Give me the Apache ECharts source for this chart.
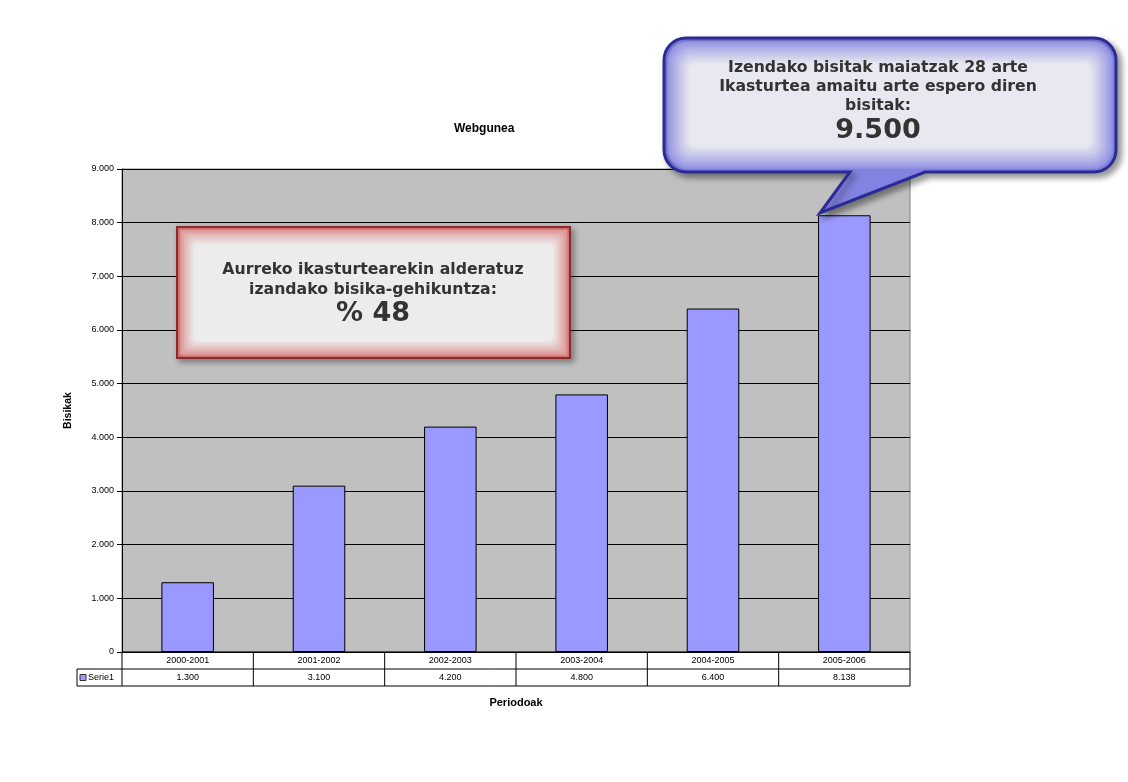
<!DOCTYPE html>
<html><head><meta charset="utf-8">
<script src="https://cdn.jsdelivr.net/npm/echarts@6/dist/echarts.min.js"></script>
<style>html,body{margin:0;padding:0;background:#fff}#c{width:1128px;height:782px}</style>
</head><body><div id="c"></div>
<script>
const categories = ['2000-2001', '2001-2002', '2002-2003', '2003-2004', '2004-2005', '2005-2006'];
const visits = [1300, 3100, 4200, 4800, 6400, 8138];
const seriesName = 'Serie1';
const titleText = 'Webgunea';
const xAxisName = 'Periodoak';
const yAxisName = 'Bisikak';
const yMax = 9000;
const yStep = 1000;
const noteRedLines = ['Aurreko ikasturtearekin alderatuz', 'izandako bisika-gehikuntza:'];
const noteRedValue = '% 48';
const noteBlueLines = ['Izendako bisitak maiatzak 28 arte', 'Ikasturtea amaitu arte espero diren', 'bisitak:'];
const noteBlueValue = '9.500';

function fmt(v) { return String(v).replace(/\B(?=(\d{3})+(?!\d))/g, '.'); }

const chart = echarts.init(document.getElementById('c'));
const FONT = 'Liberation Sans, Arial, sans-serif';
const NOTE_FONT = 'DejaVu Sans, Verdana, sans-serif';

chart.setOption({
  animation: false,
  backgroundColor: '#ffffff',
  title: {
    text: titleText, left: 449, top: 118,
    textStyle: { fontSize: 12, fontWeight: 'bold', fontFamily: FONT, color: '#000' }
  },
  grid: {
    left: 122, right: 218, top: 169, bottom: 130,
    show: true, backgroundColor: '#c0c0c0', borderColor: '#808080', borderWidth: 1
  },
  xAxis: {
    type: 'category', data: categories,
    name: xAxisName, nameLocation: 'middle', nameGap: 45,
    nameTextStyle: { fontSize: 11, fontWeight: 'bold', fontFamily: FONT, color: '#000' },
    axisLine: { show: true, lineStyle: { color: '#000', width: 1 } },
    axisTick: { show: false }, axisLabel: { show: false }, splitLine: { show: false }
  },
  yAxis: {
    type: 'value', min: 0, max: yMax, interval: yStep,
    name: yAxisName, nameLocation: 'middle', nameGap: 48, nameRotate: 90,
    nameTextStyle: { fontSize: 10.5, fontWeight: 'bold', fontFamily: FONT, color: '#000' },
    axisLine: { show: true, lineStyle: { color: '#000', width: 1 } },
    axisTick: { show: true, length: 5, lineStyle: { color: '#000' } },
    axisLabel: { formatter: fmt, fontSize: 9, fontFamily: FONT, color: '#000', margin: 8 },
    splitLine: { show: true, lineStyle: { color: '#000', width: 1 } }
  },
  series: [{
    name: seriesName, type: 'bar', data: visits, barWidth: '40%',
    itemStyle: { color: '#9999ff', borderColor: '#000', borderWidth: 1 }
  }]
});

// ---- data table under the plot, positioned from the axis scale ----
const c0 = chart.convertToPixel({ xAxisIndex: 0 }, categories[0]);
const c1 = chart.convertToPixel({ xAxisIndex: 0 }, categories[1]);
const band = c1 - c0;
const left = c0 - band / 2;
const right = left + band * categories.length;
const yZero = chart.convertToPixel({ yAxisIndex: 0 }, 0);
const rowH = 17;
const r1 = yZero, r2 = yZero + rowH, r3 = yZero + 2 * rowH;
const legLeft = left - 45;
const g = [];
const line = (x1, y1, x2, y2) => g.push({ type: 'line', z: 100, shape: { x1, y1, x2, y2 }, style: { stroke: '#000', lineWidth: 1 } });
line(left, r1, right, r1);
line(legLeft, r2, right, r2);
line(legLeft, r3, right, r3);
line(legLeft, r2, legLeft, r3);
for (let i = 0; i <= categories.length; i++) line(left + i * band, r1, left + i * band, r3);
categories.forEach((cat, i) => {
  const cx = left + (i + 0.5) * band;
  g.push({ type: 'text', z: 100, x: cx, y: (r1 + r2) / 2 + 0.5, style: { text: cat, fontSize: 9, fontFamily: FONT, fill: '#000', align: 'center', verticalAlign: 'middle' } });
  g.push({ type: 'text', z: 100, x: cx, y: (r2 + r3) / 2 + 0.5, style: { text: fmt(visits[i]), fontSize: 9, fontFamily: FONT, fill: '#000', align: 'center', verticalAlign: 'middle' } });
});
g.push({ type: 'rect', z: 100, shape: { x: legLeft + 3, y: (r2 + r3) / 2 - 3, width: 6, height: 6 }, style: { fill: '#9999ff', stroke: '#333', lineWidth: 1 } });
g.push({ type: 'text', z: 100, x: legLeft + 11, y: (r2 + r3) / 2 + 0.5, style: { text: seriesName, fontSize: 9, fontFamily: FONT, fill: '#000', align: 'left', verticalAlign: 'middle' } });

// colour blend helper for soft inner glow
function mix(a, b, t) {
  const pa = [1, 3, 5].map(k => parseInt(a.substr(k, 2), 16));
  const pb = [1, 3, 5].map(k => parseInt(b.substr(k, 2), 16));
  return 'rgb(' + pa.map((v, i) => Math.round(v + (pb[i] - v) * t)).join(',') + ')';
}

// ---- red note box ----
const RB = { x: 177, y: 227, w: 393, h: 131 };
g.push({ type: 'rect', z: 110, shape: { x: RB.x, y: RB.y, width: RB.w, height: RB.h },
  style: { fill: '#d87878', stroke: '#8e2a2a', lineWidth: 2, shadowBlur: 6, shadowOffsetX: 3, shadowOffsetY: 3, shadowColor: 'rgba(0,0,0,0.35)' } });
const redSteps = 14;
for (let k = 1; k <= redSteps; k++) {
  const t = k / redSteps;
  const ins = 1.5 + k * 1.1;
  g.push({ type: 'rect', z: 110 + k * 0.01, shape: { x: RB.x + ins, y: RB.y + ins, width: RB.w - 2 * ins, height: RB.h - 2 * ins, r: Math.min(k, 6) },
    style: { fill: mix('#dc8484', '#ececec', Math.pow(t, 0.8)) } });
}
noteRedLines.forEach((t, i) => g.push({ type: 'text', z: 112, x: 373, y: 270 + i * 20,
  style: { text: t, fontSize: 15.7, fontWeight: 'bold', fontFamily: NOTE_FONT, fill: '#333', align: 'center', verticalAlign: 'middle' } }));
g.push({ type: 'text', z: 112, x: 373, y: 314,
  style: { text: noteRedValue, fontSize: 27, fontWeight: 'bold', fontFamily: NOTE_FONT, fill: '#333', align: 'center', verticalAlign: 'middle' } });

// ---- blue speech bubble ----
function roundedPoly(x0, y0, x1, y1, r, tail) {
  const pts = [];
  const arc = (cx, cy, a0, a1) => { for (let k = 0; k <= 8; k++) { const a = a0 + (a1 - a0) * k / 8; pts.push([cx + r * Math.cos(a), cy + r * Math.sin(a)]); } };
  arc(x0 + r, y0 + r, Math.PI, 1.5 * Math.PI);
  arc(x1 - r, y0 + r, 1.5 * Math.PI, 2 * Math.PI);
  arc(x1 - r, y1 - r, 0, 0.5 * Math.PI);
  tail.forEach(p => pts.push(p));
  arc(x0 + r, y1 - r, 0.5 * Math.PI, Math.PI);
  return pts;
}
g.push({ type: 'polygon', z: 120, shape: { points: roundedPoly(664, 38, 1116, 172, 22, [[925, 172], [820, 213], [850, 172]]) },
  style: { fill: '#8282e0', stroke: '#2b2b98', lineWidth: 3, shadowBlur: 6, shadowOffsetX: 4, shadowOffsetY: 4, shadowColor: 'rgba(0,0,0,0.4)' } });
const BB = { x: 664, y: 38, w: 452, h: 134 };
const blueSteps = 18;
for (let k = 1; k <= blueSteps; k++) {
  const t = k / blueSteps;
  const ins = 2 + k * 1.3;
  g.push({ type: 'rect', z: 120 + k * 0.01, shape: { x: BB.x + ins, y: BB.y + ins, width: BB.w - 2 * ins, height: BB.h - 2 * ins, r: Math.max(22 - ins * 0.6, 6) },
    style: { fill: mix('#8a8ae2', '#e8e8f0', Math.pow(t, 0.85)) } });
}
noteBlueLines.forEach((t, i) => g.push({ type: 'text', z: 122, x: 878, y: 68 + i * 19,
  style: { text: t, fontSize: 15.7, fontWeight: 'bold', fontFamily: NOTE_FONT, fill: '#333', align: 'center', verticalAlign: 'middle' } }));
g.push({ type: 'text', z: 122, x: 878, y: 131,
  style: { text: noteBlueValue, fontSize: 27, fontWeight: 'bold', fontFamily: NOTE_FONT, fill: '#333', align: 'center', verticalAlign: 'middle' } });

chart.setOption({ graphic: g });
</script>
</body></html>
